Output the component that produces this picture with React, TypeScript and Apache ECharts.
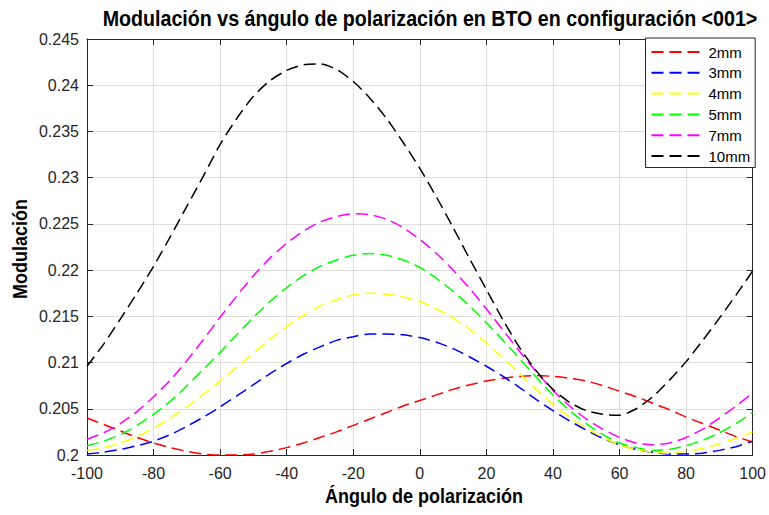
import React, { useEffect, useRef } from "react";
import * as echarts from "echarts";

const angles = [-100, -95, -90, -85, -80, -75, -70, -65, -60, -55, -50, -45, -40, -35, -30, -25, -20, -15, -10, -5, 0, 5, 10, 15, 20, 25, 30, 35, 40, 45, 50, 55, 60, 65, 70, 75, 80, 85, 90, 95, 100];
const mod2mm = [0.2040, 0.2033, 0.2026, 0.2019, 0.2013, 0.2008, 0.2004, 0.2001, 0.2000, 0.2000, 0.2001, 0.2004, 0.2008, 0.2013, 0.2019, 0.2025, 0.2032, 0.2039, 0.2046, 0.2053, 0.2059, 0.2065, 0.2071, 0.2076, 0.2080, 0.2083, 0.2085, 0.2086, 0.2085, 0.2083, 0.2080, 0.2075, 0.2069, 0.2063, 0.2056, 0.2049, 0.2041, 0.2034, 0.2027, 0.2020, 0.2014];
const mod3mm = [0.2001, 0.2003, 0.2006, 0.2010, 0.2015, 0.2022, 0.2031, 0.2041, 0.2052, 0.2064, 0.2076, 0.2088, 0.2099, 0.2109, 0.2117, 0.2124, 0.2128, 0.2131, 0.2131, 0.2130, 0.2127, 0.2122, 0.2115, 0.2106, 0.2096, 0.2085, 0.2073, 0.2060, 0.2048, 0.2037, 0.2027, 0.2018, 0.2011, 0.2006, 0.2003, 0.2001, 0.2001, 0.2002, 0.2005, 0.2009, 0.2015];
const mod4mm = [0.2005, 0.2008, 0.2013, 0.2020, 0.2029, 0.2040, 0.2052, 0.2066, 0.2080, 0.2095, 0.2110, 0.2125, 0.2139, 0.2151, 0.2161, 0.2168, 0.2173, 0.2175, 0.2174, 0.2171, 0.2166, 0.2158, 0.2148, 0.2136, 0.2121, 0.2105, 0.2088, 0.2071, 0.2055, 0.2041, 0.2029, 0.2019, 0.2011, 0.2006, 0.2003, 0.2002, 0.2004, 0.2007, 0.2012, 0.2018, 0.2025];
const mod5mm = [0.2010, 0.2015, 0.2022, 0.2032, 0.2044, 0.2058, 0.2075, 0.2093, 0.2111, 0.2130, 0.2149, 0.2166, 0.2181, 0.2194, 0.2204, 0.2211, 0.2216, 0.2218, 0.2216, 0.2211, 0.2203, 0.2191, 0.2177, 0.2161, 0.2143, 0.2124, 0.2104, 0.2084, 0.2065, 0.2048, 0.2034, 0.2022, 0.2013, 0.2008, 0.2005, 0.2006, 0.2010, 0.2016, 0.2024, 0.2034, 0.2046];
const mod7mm = [0.2017, 0.2024, 0.2034, 0.2047, 0.2063, 0.2081, 0.2102, 0.2125, 0.2149, 0.2172, 0.2194, 0.2213, 0.2229, 0.2242, 0.2252, 0.2258, 0.2261, 0.2260, 0.2255, 0.2246, 0.2233, 0.2218, 0.2200, 0.2180, 0.2158, 0.2135, 0.2112, 0.2090, 0.2070, 0.2053, 0.2039, 0.2028, 0.2019, 0.2013, 0.2011, 0.2013, 0.2019, 0.2028, 0.2040, 0.2053, 0.2067];
const mod10mm = [0.2096, 0.2120, 0.2147, 0.2175, 0.2204, 0.2236, 0.2269, 0.2302, 0.2336, 0.2364, 0.2388, 0.2405, 0.2416, 0.2422, 0.2423, 0.2417, 0.2404, 0.2386, 0.2364, 0.2338, 0.2310, 0.2279, 0.2246, 0.2212, 0.2179, 0.2146, 0.2116, 0.2091, 0.2071, 0.2057, 0.2048, 0.2044, 0.2043, 0.2050, 0.2063, 0.2081, 0.2101, 0.2124, 0.2148, 0.2173, 0.2199];

const seriesNames = ["2mm", "3mm", "4mm", "5mm", "7mm", "10mm"];
const seriesValues = [mod2mm, mod3mm, mod4mm, mod5mm, mod7mm, mod10mm];
const seriesColors = ["#ff0000", "#0000ff", "#ffff00", "#00ff00", "#ff00ff", "#000000"];

const titleText = "Modulación vs ángulo de polarización en BTO en configuración <001>";
const xLabel = "Ángulo de polarización";
const yLabel = "Modulación";

const FONT = "'Liberation Sans', Arial, Helvetica, sans-serif";

export default function App() {
  const ref = useRef<HTMLDivElement>(null);
  useEffect(() => {
    if (!ref.current) return;
    const chart = echarts.init(ref.current, null, { renderer: "svg" });
    const axisColor = "#262626";
    const gridColor = "#dedede";
    const xRange = { min: -100, max: 100, interval: 20 };
    const yRange = { min: 0.2, max: 0.245, interval: 0.005 };
    const frameAxis = {
      axisLine: { show: true, onZero: false, lineStyle: { color: axisColor, width: 1 } },
      axisTick: { show: true, inside: true, length: 6, lineStyle: { color: axisColor } },
    };
    chart.setOption({
      animation: false,
      backgroundColor: "#ffffff",
      grid: { left: 87, right: 15, top: 39, bottom: 60, show: false },
      xAxis: [
        {
          type: "value",
          ...xRange,
          position: "bottom",
          ...frameAxis,
          axisLabel: { color: axisColor, fontSize: 16, fontFamily: FONT, margin: 10 },
          splitLine: { show: true, lineStyle: { color: gridColor, width: 1 } },
        },
        {
          type: "value",
          ...xRange,
          position: "top",
          ...frameAxis,
          axisLabel: { show: false },
          splitLine: { show: false },
        },
      ],
      yAxis: [
        {
          type: "value",
          ...yRange,
          position: "left",
          ...frameAxis,
          axisLabel: { color: axisColor, fontSize: 16, fontFamily: FONT, margin: 8 },
          splitLine: { show: true, lineStyle: { color: gridColor, width: 1 } },
        },
        {
          type: "value",
          ...yRange,
          position: "right",
          ...frameAxis,
          axisLabel: { show: false },
          splitLine: { show: false },
        },
      ],
      legend: {
        orient: "vertical",
        left: 645.5,
        top: 38,
        padding: [6.5, 5, 4, 5],
        itemWidth: 52,
        itemHeight: 15,
        itemGap: 5.8,
        itemTextGap: 2,
        borderColor: axisColor,
        borderWidth: 1,
        backgroundColor: "#ffffff",
        itemStyle: { opacity: 0 },
        textStyle: { fontSize: 15, color: "#000", fontFamily: FONT },
        data: seriesNames,
      },
      series: seriesNames.map((name, i) => ({
        name,
        type: "line",
        xAxisIndex: 0,
        yAxisIndex: 0,
        smooth: 0.25,
        symbol: "none",
        showSymbol: false,
        clip: true,
        lineStyle: { color: seriesColors[i], width: 1.5, type: [12, 6] },
        itemStyle: { color: seriesColors[i] },
        data: angles.map((a, k) => [a, seriesValues[i][k]]),
      })),
      graphic: [
        {
          type: "text",
          x: 430,
          y: 18.5,
          scaleX: 1.035,
          scaleY: 1.15,
          style: {
            text: titleText,
            fill: "#000",
            font: `bold 19px ${FONT}`,
            textAlign: "center",
            textVerticalAlign: "middle",
          },
        },
        {
          type: "text",
          x: 424,
          y: 496,
          scaleY: 1.1,
          style: {
            text: xLabel,
            fill: "#000",
            font: `bold 18px ${FONT}`,
            textAlign: "center",
            textVerticalAlign: "middle",
          },
        },
        {
          type: "text",
          x: 20,
          y: 249,
          rotation: Math.PI / 2,
          scaleY: 1.1,
          style: {
            text: yLabel,
            fill: "#000",
            font: `bold 18px ${FONT}`,
            textAlign: "center",
            textVerticalAlign: "middle",
          },
        },
      ],
    });
    return () => chart.dispose();
  }, []);
  return <div ref={ref} style={{ width: 769, height: 515, position: "absolute", left: 0, top: 0 }} />;
}
